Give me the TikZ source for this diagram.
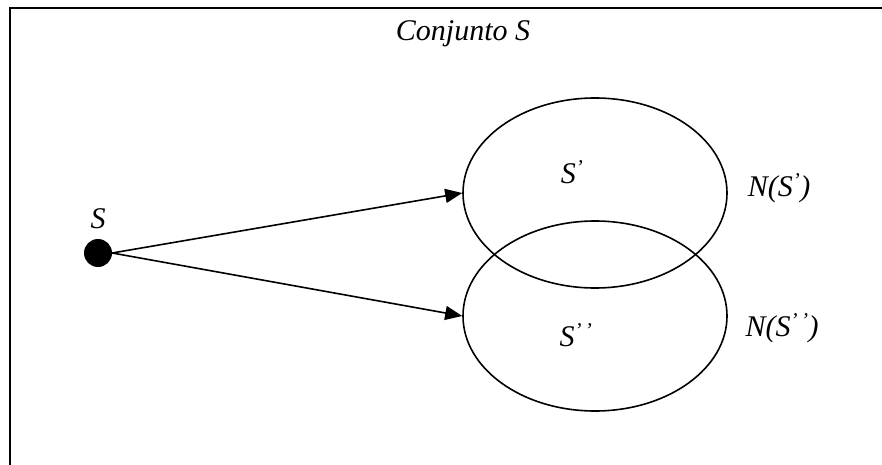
\documentclass[tikz,border=0pt]{standalone}
\usepackage{fontspec}
\setmainfont{Liberation Serif}
\usetikzlibrary{arrows.meta,positioning,shapes.geometric}
\tikzset{
  setbox/.style   = {ellipse, draw=black, line width=1.6pt, minimum width=264pt,
                     minimum height=190pt, inner sep=0pt},
  srcdot/.style   = {circle, fill=black, minimum size=28pt, inner sep=0pt},
  lbl/.style      = {font=\fontsize{30}{34}\selectfont\itshape, inner sep=0pt},
  flow/.style     = {-{Triangle[length=17pt,width=14pt]}, line width=1.6pt},
  frameline/.style= {line width=2.2pt, draw=black},
}
\begin{document}
\begin{tikzpicture}[x=1pt,y=-1pt]
  \useasboundingbox (0,0) rectangle (882,465);
  % frame of the set
  \coordinate (fbl) at (10,470);
  \coordinate (ftl) at (10,8);
  \coordinate (ftr) at (890,8);
  \draw[frameline] (fbl) -- (ftl) -- (ftr);
  \node[lbl] (title) at (463,34) {Conjunto S};

  \node[srcdot] (s) at (98,253) {};
  \node[lbl,above=10pt of s] (slbl) {S};

  \node[setbox] (e1) at (595,193) {};
  \node[setbox] (e2) at (595,316) {};
  \node[lbl] (s1) at (572,172) {S\textsuperscript{’}};
  \node[lbl] (s2) at (576,335) {S\textsuperscript{’\,’}};
  \node[lbl] (n1) at (779,188) {N(S\textsuperscript{’})};
  \node[lbl] (n2) at (782,328) {N(S\textsuperscript{’\,’})};

  \draw[flow] (s.east) -- (e1.west);
  \draw[flow] (s.east) -- (e2.west);
\end{tikzpicture}
\end{document}
